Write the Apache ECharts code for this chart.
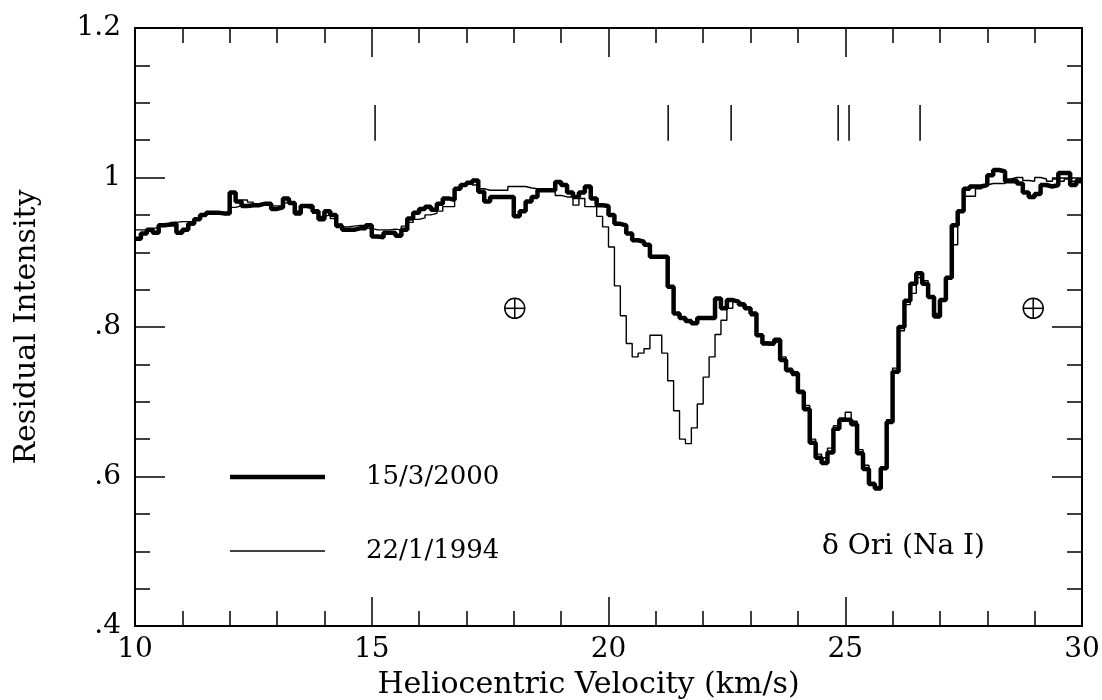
<!DOCTYPE html>
<html lang="en">
<head>
  <meta charset="UTF-8">
  <title>delta Ori Na I</title>
  <style>
    html, body {
      height: 100%;
      width: 100%;
      margin: 0;
      padding: 0;
      background: #fff;
    }
  </style>
  <script src="https://cdn.jsdelivr.net/npm/echarts/dist/echarts.min.js"></script>
</head>
<body>
<div id="main" style="width: 1102px; height: 700px;"></div>

<script>
  // heliocentric velocity grid (km/s)
  var velocity = [
    10.000, 10.125, 10.250, 10.375, 10.500, 10.625, 10.750, 10.875,
    11.000, 11.125, 11.250, 11.375, 11.500, 11.625, 11.750, 11.875,
    12.000, 12.125, 12.250, 12.375, 12.500, 12.625, 12.750, 12.875,
    13.000, 13.125, 13.250, 13.375, 13.500, 13.625, 13.750, 13.875,
    14.000, 14.125, 14.250, 14.375, 14.500, 14.625, 14.750, 14.875,
    15.000, 15.125, 15.250, 15.375, 15.500, 15.625, 15.750, 15.875,
    16.000, 16.125, 16.250, 16.375, 16.500, 16.625, 16.750, 16.875,
    17.000, 17.125, 17.250, 17.375, 17.500, 17.625, 17.750, 17.875,
    18.000, 18.125, 18.250, 18.375, 18.500, 18.625, 18.750, 18.875,
    19.000, 19.125, 19.250, 19.375, 19.500, 19.625, 19.750, 19.875,
    20.000, 20.125, 20.250, 20.375, 20.500, 20.625, 20.750, 20.875,
    21.000, 21.125, 21.250, 21.375, 21.500, 21.625, 21.750, 21.875,
    22.000, 22.125, 22.250, 22.375, 22.500, 22.625, 22.750, 22.875,
    23.000, 23.125, 23.250, 23.375, 23.500, 23.625, 23.750, 23.875,
    24.000, 24.125, 24.250, 24.375, 24.500, 24.625, 24.750, 24.875,
    25.000, 25.125, 25.250, 25.375, 25.500, 25.625, 25.750, 25.875,
    26.000, 26.125, 26.250, 26.375, 26.500, 26.625, 26.750, 26.875,
    27.000, 27.125, 27.250, 27.375, 27.500, 27.625, 27.750, 27.875,
    28.000, 28.125, 28.250, 28.375, 28.500, 28.625, 28.750, 28.875,
    29.000, 29.125, 29.250, 29.375, 29.500, 29.625, 29.750, 29.875,
    30.000
  ];

  // 15/3/2000 spectrum (thick line)
  var spec2000 = [
    0.918, 0.925, 0.930, 0.926, 0.936, 0.937, 0.938, 0.926,
    0.930, 0.938, 0.944, 0.950, 0.953, 0.953, 0.952, 0.952,
    0.980, 0.968, 0.962, 0.963, 0.963, 0.965, 0.965, 0.958,
    0.960, 0.972, 0.966, 0.952, 0.962, 0.962, 0.955, 0.944,
    0.955, 0.950, 0.935, 0.930, 0.930, 0.932, 0.932, 0.936,
    0.921, 0.920, 0.926, 0.926, 0.922, 0.930, 0.945, 0.953,
    0.958, 0.961, 0.957, 0.965, 0.972, 0.970, 0.985, 0.990,
    0.993, 0.996, 0.981, 0.968, 0.974, 0.974, 0.974, 0.974,
    0.948, 0.955, 0.968, 0.974, 0.983, 0.983, 0.983, 0.994,
    0.990, 0.980, 0.974, 0.980, 0.988, 0.972, 0.963, 0.962,
    0.950, 0.938, 0.936, 0.925, 0.916, 0.914, 0.910, 0.894,
    0.894, 0.894, 0.854, 0.818, 0.812, 0.808, 0.805, 0.812,
    0.812, 0.812, 0.838, 0.825, 0.836, 0.834, 0.830, 0.825,
    0.818, 0.789, 0.778, 0.778, 0.783, 0.756, 0.742, 0.738,
    0.713, 0.690, 0.645, 0.625, 0.618, 0.632, 0.664, 0.676,
    0.676, 0.670, 0.631, 0.610, 0.590, 0.584, 0.611, 0.673,
    0.740, 0.800, 0.835, 0.858, 0.872, 0.858, 0.840, 0.814,
    0.836, 0.866, 0.936, 0.955, 0.985, 0.988, 0.988, 0.990,
    1.003, 1.010, 1.008, 0.995, 0.996, 0.992, 0.980, 0.974,
    0.978, 0.990, 0.988, 0.990, 1.006, 1.006, 0.990, 0.995,
    0.995
  ];

  // 22/1/1994 spectrum (thin line)
  var spec1994 = [
    0.930, 0.930, 0.932, 0.933, 0.936, 0.937, 0.940, 0.941,
    0.941, 0.941, 0.945, 0.950, 0.952, 0.952, 0.951, 0.952,
    0.960, 0.962, 0.970, 0.967, 0.964, 0.965, 0.966, 0.962,
    0.962, 0.966, 0.964, 0.955, 0.960, 0.958, 0.952, 0.948,
    0.950, 0.945, 0.938, 0.934, 0.935, 0.936, 0.936, 0.932,
    0.930, 0.930, 0.930, 0.931, 0.930, 0.935, 0.940, 0.944,
    0.946, 0.950, 0.952, 0.955, 0.961, 0.961, 0.985, 0.990,
    0.993, 0.990, 0.985, 0.983, 0.983, 0.983, 0.983, 0.988,
    0.988, 0.988, 0.986, 0.985, 0.983, 0.983, 0.983, 0.976,
    0.974, 0.974, 0.963, 0.972, 0.961, 0.961, 0.948, 0.934,
    0.907, 0.855, 0.815, 0.778, 0.760, 0.765, 0.771, 0.789,
    0.789, 0.765, 0.728, 0.688, 0.650, 0.644, 0.665, 0.697,
    0.733, 0.760, 0.790, 0.809, 0.825, 0.834, 0.832, 0.826,
    0.815, 0.790, 0.780, 0.776, 0.780, 0.760, 0.745, 0.735,
    0.715, 0.695, 0.650, 0.630, 0.625, 0.638, 0.668, 0.678,
    0.686, 0.674, 0.636, 0.615, 0.592, 0.586, 0.612, 0.676,
    0.745, 0.795, 0.830, 0.845, 0.866, 0.862, 0.842, 0.818,
    0.838, 0.866, 0.910, 0.955, 0.975, 0.975, 0.985, 0.990,
    0.992, 0.992, 0.992, 0.998, 1.000, 1.000, 0.996, 0.995,
    1.000, 0.998, 0.995, 0.998, 0.995, 0.998, 0.995, 0.998,
    0.998
  ];

  // interstellar component velocities (tick marks at top)
  var componentVel = [15.07, 21.26, 22.59, 24.85, 25.08, 26.58];
  var componentLow = 1.049;
  var componentHigh = 1.097;

  // telluric lines
  var telluricVel = [18.02, 28.97];
  var telluricLevel = 0.825;

  var yTickLabels = ['.4', '.6', '.8', '1', '1.2'];
  var legendNames = ['15/3/2000', '22/1/1994'];
  var starLabel = '\u03b4 Ori (Na I)';

  var font = 'DejaVu Serif';
  var chartDom = document.getElementById('main');
  var myChart = echarts.init(chartDom);

  function pairs(ys) {
    return velocity.map(function (v, i) { return [v, ys[i]]; });
  }

  function xAxisCfg(pos, withLabels) {
    return {
      type: 'value',
      position: pos,
      min: 10,
      max: 30,
      interval: 5,
      name: withLabels ? 'Heliocentric Velocity (km/s)' : '',
      nameLocation: 'middle',
      nameGap: 44,
      nameTextStyle: { fontFamily: font, fontSize: 30, color: '#000', padding: [0, 40, 0, 0] },
      axisLine: { show: true, onZero: false, lineStyle: { color: '#000', width: 2 } },
      axisTick: { show: true, inside: true, length: 29, lineStyle: { color: '#000', width: 1.5 } },
      minorTick: { show: true, splitNumber: 5, length: 15, lineStyle: { color: '#000', width: 1.5 } },
      splitLine: { show: false },
      axisLabel: {
        show: withLabels,
        margin: 10,
        fontFamily: font,
        fontSize: 28,
        color: '#000'
      }
    };
  }

  function yAxisCfg(pos, withLabels) {
    return {
      type: 'value',
      position: pos,
      min: 0.4,
      max: 1.2,
      interval: 0.2,
      name: withLabels ? 'Residual Intensity' : '',
      nameLocation: 'middle',
      nameGap: 93,
      nameTextStyle: { fontFamily: font, fontSize: 30, color: '#000' },
      axisLine: { show: true, onZero: false, lineStyle: { color: '#000', width: 2 } },
      axisTick: { show: true, inside: true, length: 30, lineStyle: { color: '#000', width: 1.5 } },
      minorTick: { show: true, splitNumber: 4, length: 15, lineStyle: { color: '#000', width: 1.5 } },
      splitLine: { show: false },
      axisLabel: {
        show: withLabels,
        margin: 14,
        fontFamily: font,
        fontSize: 28,
        color: '#000',
        formatter: function (val, idx) { return yTickLabels[idx]; }
      }
    };
  }

  var option = {
    animation: false,
    backgroundColor: '#fff',
    grid: { left: 135, right: 20, top: 28, bottom: 74, outerBoundsMode: 'none' },
    xAxis: [xAxisCfg('bottom', true), xAxisCfg('top', false)],
    yAxis: [yAxisCfg('left', true), yAxisCfg('right', false)],
    series: [
      {
        name: legendNames[0],
        type: 'line',
        step: 'end',
        data: pairs(spec2000),
        showSymbol: false,
        lineStyle: { color: '#000', width: 4.5 },
        z: 3
      },
      {
        name: legendNames[1],
        type: 'line',
        step: 'end',
        data: pairs(spec1994),
        showSymbol: false,
        lineStyle: { color: '#000', width: 1.4 },
        z: 4
      },
      {
        type: 'custom',
        data: componentVel.map(function (v) { return [v]; }),
        renderItem: function (params, api) {
          var p1 = api.coord([api.value(0), componentLow]);
          var p2 = api.coord([api.value(0), componentHigh]);
          return {
            type: 'line',
            shape: { x1: p1[0], y1: p1[1], x2: p2[0], y2: p2[1] },
            style: { stroke: '#000', lineWidth: 1.5 }
          };
        }
      },
      {
        type: 'custom',
        data: telluricVel.map(function (v) { return [v, telluricLevel]; }),
        renderItem: function (params, api) {
          var c = api.coord([api.value(0), api.value(1)]);
          var r = 10;
          var st = { stroke: '#000', lineWidth: 1.5, fill: null };
          return {
            type: 'group',
            children: [
              { type: 'circle', shape: { cx: c[0], cy: c[1], r: r }, style: st },
              { type: 'line', shape: { x1: c[0] - r, y1: c[1], x2: c[0] + r, y2: c[1] }, style: st },
              { type: 'line', shape: { x1: c[0], y1: c[1] - r, x2: c[0], y2: c[1] + r }, style: st }
            ]
          };
        }
      }
    ],
    graphic: [
      { type: 'line', shape: { x1: 230, y1: 477, x2: 325, y2: 477 }, style: { stroke: '#000', lineWidth: 4.5 } },
      { type: 'line', shape: { x1: 230, y1: 551, x2: 325, y2: 551 }, style: { stroke: '#000', lineWidth: 1.4 } },
      {
        type: 'text', x: 366, y: 477,
        style: { text: legendNames[0], fontFamily: font, fontSize: 26, fill: '#000', verticalAlign: 'middle' }
      },
      {
        type: 'text', x: 366, y: 551,
        style: { text: legendNames[1], fontFamily: font, fontSize: 26, fill: '#000', verticalAlign: 'middle' }
      },
      {
        type: 'text', x: 822, y: 547,
        style: { text: starLabel, fontFamily: font, fontSize: 28, fill: '#000', verticalAlign: 'middle' }
      }
    ]
  };

  myChart.setOption(option);
</script>
</body>
</html>
